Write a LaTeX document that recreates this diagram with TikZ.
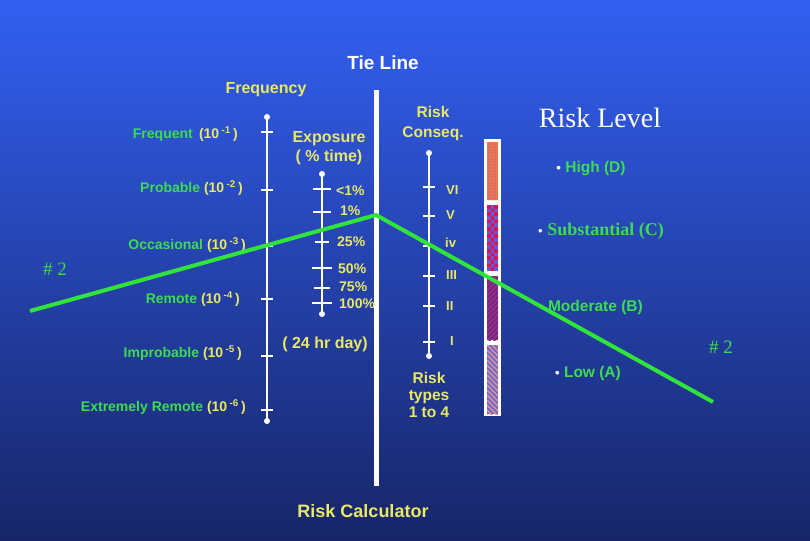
\documentclass[tikz,border=0pt]{standalone}
\usepackage{fontspec}
\setmainfont{Liberation Serif}
\setsansfont{Liberation Sans}
\definecolor{bgtop}{HTML}{3360F2}
\definecolor{bgbot}{HTML}{172568}
\definecolor{lblgreen}{HTML}{3CDC50}
\definecolor{lblyellow}{HTML}{E8E866}
\definecolor{tiegreen}{HTML}{30E43A}
\definecolor{lvlorange}{HTML}{E8775A}
\definecolor{lvldot}{HTML}{A03838}
\definecolor{chkred}{HTML}{D81452}
\definecolor{chkblue}{HTML}{6A56D8}
\definecolor{lvlpurple}{HTML}{9A2C8C}
\definecolor{lvlplum}{HTML}{6E2478}
\definecolor{lvlblue}{HTML}{5A62D6}
\definecolor{lvlpink}{HTML}{D08C9C}
\usetikzlibrary{patterns}
\newcommand{\freqlbl}[2]{{\color{lblgreen}#1} {\color{lblyellow}(10\,\textsuperscript{#2}\,)}}
\newcommand{\wbullet}{{\color{white}\fontsize{13}{13}\selectfont\textbullet}}

\begin{document}
\begin{tikzpicture}[x=1pt, y=-1pt,
  axisline/.style={white, line width=2.6pt},
  tickline/.style={white, line width=2.6pt},
  enddot/.style={circle, fill=white, inner sep=0pt, minimum size=6pt},
  title/.style={font=\sffamily\bfseries\fontsize{16}{19}\selectfont, text=lblyellow, align=center},
  freq/.style={font=\sffamily\bfseries\fontsize{14}{16}\selectfont, anchor=east, inner sep=0pt},
  pct/.style={font=\sffamily\bfseries\fontsize{14}{16}\selectfont, text=lblyellow, anchor=west, inner sep=0pt},
  roman/.style={pct, font=\sffamily\bfseries\fontsize{13}{15}\selectfont},
  level/.style={font=\sffamily\bfseries\fontsize{15.5}{18}\selectfont, text=lblgreen},
  hashlbl/.style={font=\fontsize{19}{22}\selectfont, text=lblgreen},
  tieline/.style={tiegreen, line width=4pt},
]
\shade[top color=bgtop, bottom color=bgbot] (0,0) rectangle (810,540);

% tie line
\node[font=\sffamily\bfseries\fontsize{19}{22}\selectfont, text=white] (tietitle) at (383,63) {Tie Line};
\coordinate (tietop) at (376,90);
\coordinate (tiebot) at (376,486);
\draw[white, line width=5pt] (tietop) -- (tiebot);
\node[title, font=\sffamily\bfseries\fontsize{18}{21}\selectfont] (calc) at (363,511) {Risk Calculator};

% frequency scale
\node[title] (freqtitle) at (266,90) {Frequency};
\node[enddot] (ftop) at (267,117) {};
\node[enddot] (fbot) at (267,421) {};
\draw[axisline] (ftop.center) -- (fbot.center);
\foreach \y in {132,190,246,299,356,410}
  \draw[tickline] (261,\y) -- (273,\y);
\node[freq] (f1) at (238,134) {\freqlbl{Frequent\,}{-1}};
\node[freq] (f2) at (243,188) {\freqlbl{Probable}{-2}};
\node[freq] (f3) at (246,245) {\freqlbl{Occasional}{-3}};
\node[freq] (f4) at (240,299) {\freqlbl{Remote}{-4}};
\node[freq] (f5) at (242,353) {\freqlbl{Improbable}{-5}};
\node[freq] (f6) at (246,407) {\freqlbl{Extremely Remote}{-6}};

% exposure scale
\node[title] (exptitle) at (329,148) {Exposure\\( \% time)};
\node[enddot] (etop) at (322,174) {};
\node[enddot] (ebot) at (322,314) {};
\draw[axisline] (etop.center) -- (ebot.center);
\foreach \y/\w in {189/9, 212/9, 242/7, 268/10, 288/8, 303/10}
  \draw[tickline] (322-\w,\y) -- (322+\w,\y);
\node[pct] (e1) at (336,191) {<1\%};
\node[pct] (e2) at (340,211) {1\%};
\node[pct] (e3) at (337,242) {25\%};
\node[pct] (e4) at (338,269) {50\%};
\node[pct] (e5) at (339,287) {75\%};
\node[pct] (e6) at (339,304) {100\%};
\node[title] (day) at (325,344) {( 24 hr day)};

% risk consequence scale
\node[title, font=\sffamily\bfseries\fontsize{15.5}{20}\selectfont] (constitle) at (433,123) {Risk\\Conseq.};
\node[enddot] (ctop) at (429,153) {};
\node[enddot] (cbot) at (429,356) {};
\draw[axisline] (ctop.center) -- (cbot.center);
\foreach \y in {187,216,246,276,306,342}
  \draw[tickline] (423,\y) -- (435,\y);
\node[roman] (c6) at (446,190) {VI};
\node[roman] (c5) at (446,215) {V};
\node[roman] (c4) at (445,243) {iv};
\node[roman] (c3) at (446,275) {III};
\node[roman] (c2) at (446,306) {II};
\node[roman] (c1) at (450,341) {I};
\node[title, font=\sffamily\bfseries\fontsize{15.5}{17}\selectfont] (types) at (429,395) {Risk\\types\\1 to 4};

% risk level bar
\fill[white] (484,139) rectangle (501,416);
\fill[lvlorange] (487,142) rectangle (498,200);
\fill[pattern=dots, pattern color=lvldot] (487,142) rectangle (498,200);
\fill[chkblue] (487,205) rectangle (498,271);
\begin{scope}
  \clip (487,205) rectangle (498,271);
  \foreach \r in {0,...,17} \foreach \c in {0,1,2} {
    \ifodd\numexpr\r+\c\relax \else
      \fill[chkred] ({487+3.67*\c},{205+3.67*\r}) rectangle ++(3.67,3.67);
    \fi
  }
\end{scope}
\fill[lvlpurple] (487,276) rectangle (498,340);
\begin{scope}
  \clip (487,276) rectangle (498,340);
  \foreach \k in {0,...,16}
    \draw[lvlplum, line width=1.4pt] (487,{278+5*\k}) -- ++(15,-15);
\end{scope}
\fill[lvlblue] (487,345) rectangle (498,414);
\begin{scope}
  \clip (487,345) rectangle (498,414);
  \foreach \k in {0,...,17}
    \draw[lvlpink, line width=1.8pt] (487,{330+5*\k}) -- ++(15,15);
\end{scope}

% risk levels
\node[font=\fontsize{28}{32}\selectfont, text=white] (lvltitle) at (600,118) {Risk Level};
\node[level] (high) at (591,169) {\wbullet~High (D)};
\node[level, font=\bfseries\fontsize{18}{21}\selectfont] (subst) at (601,231) {\wbullet~Substantial (C)};
\node[level] (moder) at (591,307) {\wbullet~Moderate (B)};
\node[level] (low) at (588,373) {\wbullet~Low (A)};
\node[hashlbl] (hashL) at (55,269) {\# 2};
\node[hashlbl] (hashR) at (721,347) {\# 2};

% green tie
\coordinate (gstart) at (30,311);
\coordinate (gtie) at (376,215);
\coordinate (gend) at (713,402);
\draw[tieline] (gstart) -- (gtie) -- (gend);
\end{tikzpicture}
\end{document}
